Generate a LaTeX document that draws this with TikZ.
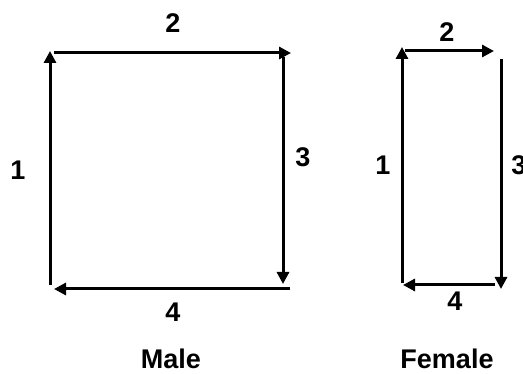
\documentclass[tikz,border=0pt]{standalone}
\usepackage{fontspec}
\setmainfont{Liberation Sans}
\usetikzlibrary{arrows.meta}
\begin{document}
\begin{tikzpicture}[x=1pt,y=-1pt,
  flow/.style={line width=3pt,-{Triangle[length=12pt,width=12pt]}},
  lbl/.style={font=\fontsize{27}{30}\selectfont\bfseries,inner sep=0pt,anchor=base}]
\useasboundingbox (0,0) rectangle (523,374);
\clip (0,0) rectangle (523,374);
% Male cycle
\coordinate (m1s) at (50,285);  \coordinate (m1e) at (50,51);
\coordinate (m2s) at (54,53);   \coordinate (m2e) at (291,53);
\coordinate (m3s) at (283,57);  \coordinate (m3e) at (283,284);
\coordinate (m4s) at (290,289); \coordinate (m4e) at (54,289);
\draw[flow] (m1s) -- (m1e);
\draw[flow] (m2s) -- (m2e);
\draw[flow] (m3s) -- (m3e);
\draw[flow] (m4s) -- (m4e);
\node[lbl] (ml1) at (18,180) {1};
\node[lbl] (ml2) at (173,33) {2};
\node[lbl] (ml3) at (303,167) {3};
\node[lbl] (ml4) at (173,322) {4};
\node[lbl] (male) at (171,369) {Male};
% Female cycle
\coordinate (f1s) at (402,283); \coordinate (f1e) at (402,47);
\coordinate (f2s) at (405,51);  \coordinate (f2e) at (494,51);
\coordinate (f3s) at (501,59);  \coordinate (f3e) at (501,289);
\coordinate (f4s) at (495,285); \coordinate (f4e) at (403,285);
\draw[flow] (f1s) -- (f1e);
\draw[flow] (f2s) -- (f2e);
\draw[flow] (f3s) -- (f3e);
\draw[flow] (f4s) -- (f4e);
\node[lbl] (fl1) at (383,175) {1};
\node[lbl] (fl2) at (447,42) {2};
\node[lbl] (fl3) at (519,175) {3};
\node[lbl] (fl4) at (455,311) {4};
\node[lbl] (female) at (447,369) {Female};
\end{tikzpicture}
\end{document}
